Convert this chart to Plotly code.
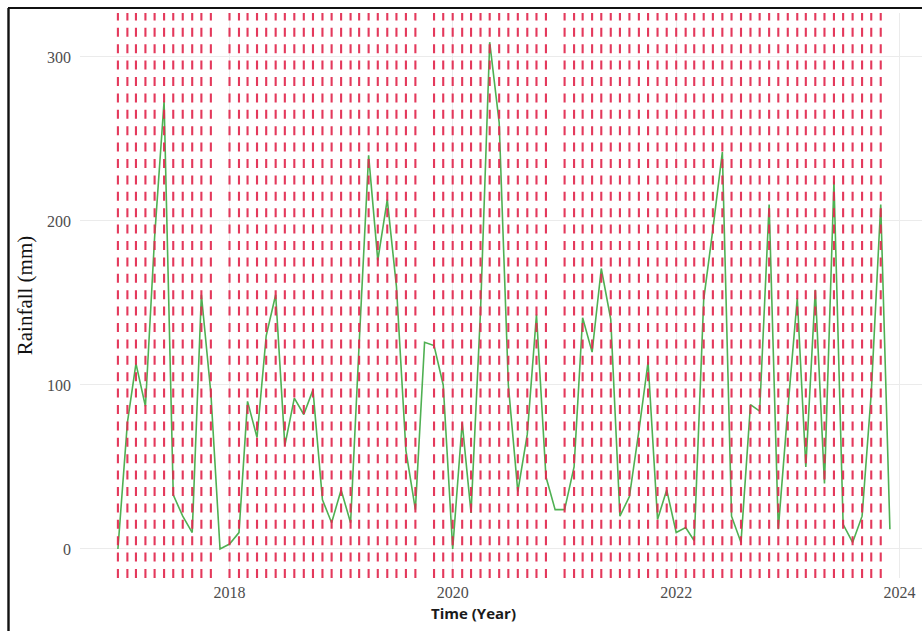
import pandas as pd
import plotly.graph_objects as go

# Monthly rainfall totals (mm), January 2017 - December 2023
months = pd.date_range("2017-01-01", "2023-12-01", freq="MS").strftime("%Y-%m-%d").tolist()

rain_2017 = [0, 77, 113, 87, 190, 273, 33, 20, 10, 155, 95, 0]
rain_2018 = [3, 10, 90, 68, 130, 155, 63, 92, 82, 97, 30, 16]
rain_2019 = [36, 16, 125, 240, 176, 213, 160, 60, 24, 126, 124, 100]
rain_2020 = [0, 77, 22, 145, 309, 260, 100, 35, 70, 143, 44, 24]
rain_2021 = [24, 50, 141, 120, 171, 140, 20, 32, 72, 114, 18, 36]
rain_2022 = [10, 13, 5, 152, 195, 242, 20, 4, 88, 84, 210, 12]
rain_2023 = [85, 153, 50, 158, 40, 224, 15, 4, 20, 95, 210, 12]
rainfall = rain_2017 + rain_2018 + rain_2019 + rain_2020 + rain_2021 + rain_2022 + rain_2023

# Monthly reference markers (dashed verticals)
marker_skip = ["2017-12-01", "2019-10-01", "2020-12-01", "2023-12-01"]
marker_months = [m for m in months if m not in marker_skip]

year_ticks = ["2018-01-01", "2020-01-01", "2022-01-01", "2024-01-01"]
year_labels = ["2018", "2020", "2022", "2024"]
y_ticks = [0, 100, 200, 300]

Y_LO, Y_HI = -17.7, 326.8

vx, vy = [], []
for m in marker_months:
    vx += [m, m, None]
    vy += [Y_LO, Y_HI, None]

fig = go.Figure()
fig.add_trace(go.Scatter(
    x=months, y=rainfall, mode="lines",
    line=dict(color="#4fb052", width=1.6),
    hoverinfo="x+y", showlegend=False,
))
fig.add_trace(go.Scatter(
    x=vx, y=vy, mode="lines",
    line=dict(color="#e2294f", width=2.1, dash="9px,7.4px"),
    opacity=0.92,
    hoverinfo="skip", showlegend=False,
))

# outer frame (top and left edges)
L, T, R, B = 80, 13, 922, 578
pw, ph = R - L, B - T
def px_x(p):
    return (p - L) / pw
def px_y(p):
    return (B - p) / ph

fig.add_shape(type="line", xref="paper", yref="paper",
              x0=px_x(8), x1=px_x(922), y0=px_y(8), y1=px_y(8),
              line=dict(color="#111111", width=2.2))
fig.add_shape(type="line", xref="paper", yref="paper",
              x0=px_x(8.5), x1=px_x(8.5), y0=px_y(8), y1=px_y(640),
              line=dict(color="#111111", width=2.4))

# x-axis title
fig.add_annotation(
    text="<b>Time (Year)</b>", xref="paper", yref="paper",
    x=px_x(473), y=px_y(613), xanchor="center", yanchor="middle",
    showarrow=False,
    font=dict(family="Open Sans", size=15, color="#1a1a1a"),
)

fig.update_layout(
    width=922, height=631, autosize=False,
    margin=dict(l=L, r=0, t=T, b=631 - B),
    paper_bgcolor="white", plot_bgcolor="white",
    xaxis=dict(
        type="date",
        range=["2016-08-30", "2024-03-15"],
        tickvals=year_ticks, ticktext=year_labels,
        showgrid=True, gridcolor="#ebebeb", gridwidth=1,
        zeroline=False, showline=False, ticks="",
        ticklabelstandoff=3,
        tickfont=dict(family="Liberation Serif", size=16, color="#4d4d4d"),
        fixedrange=True,
    ),
    yaxis=dict(
        range=[Y_LO, Y_HI],
        tickvals=y_ticks,
        showgrid=True, gridcolor="#ebebeb", gridwidth=1,
        zeroline=False, showline=False, ticks="",
        ticklabelstandoff=8,
        tickfont=dict(family="Liberation Serif", size=16, color="#4d4d4d"),
        title=dict(text="Rainfall (mm)", standoff=8,
                   font=dict(family="Liberation Serif", size=21, color="#111111")),
        fixedrange=True,
    ),
)

fig.write_html("out.html")
